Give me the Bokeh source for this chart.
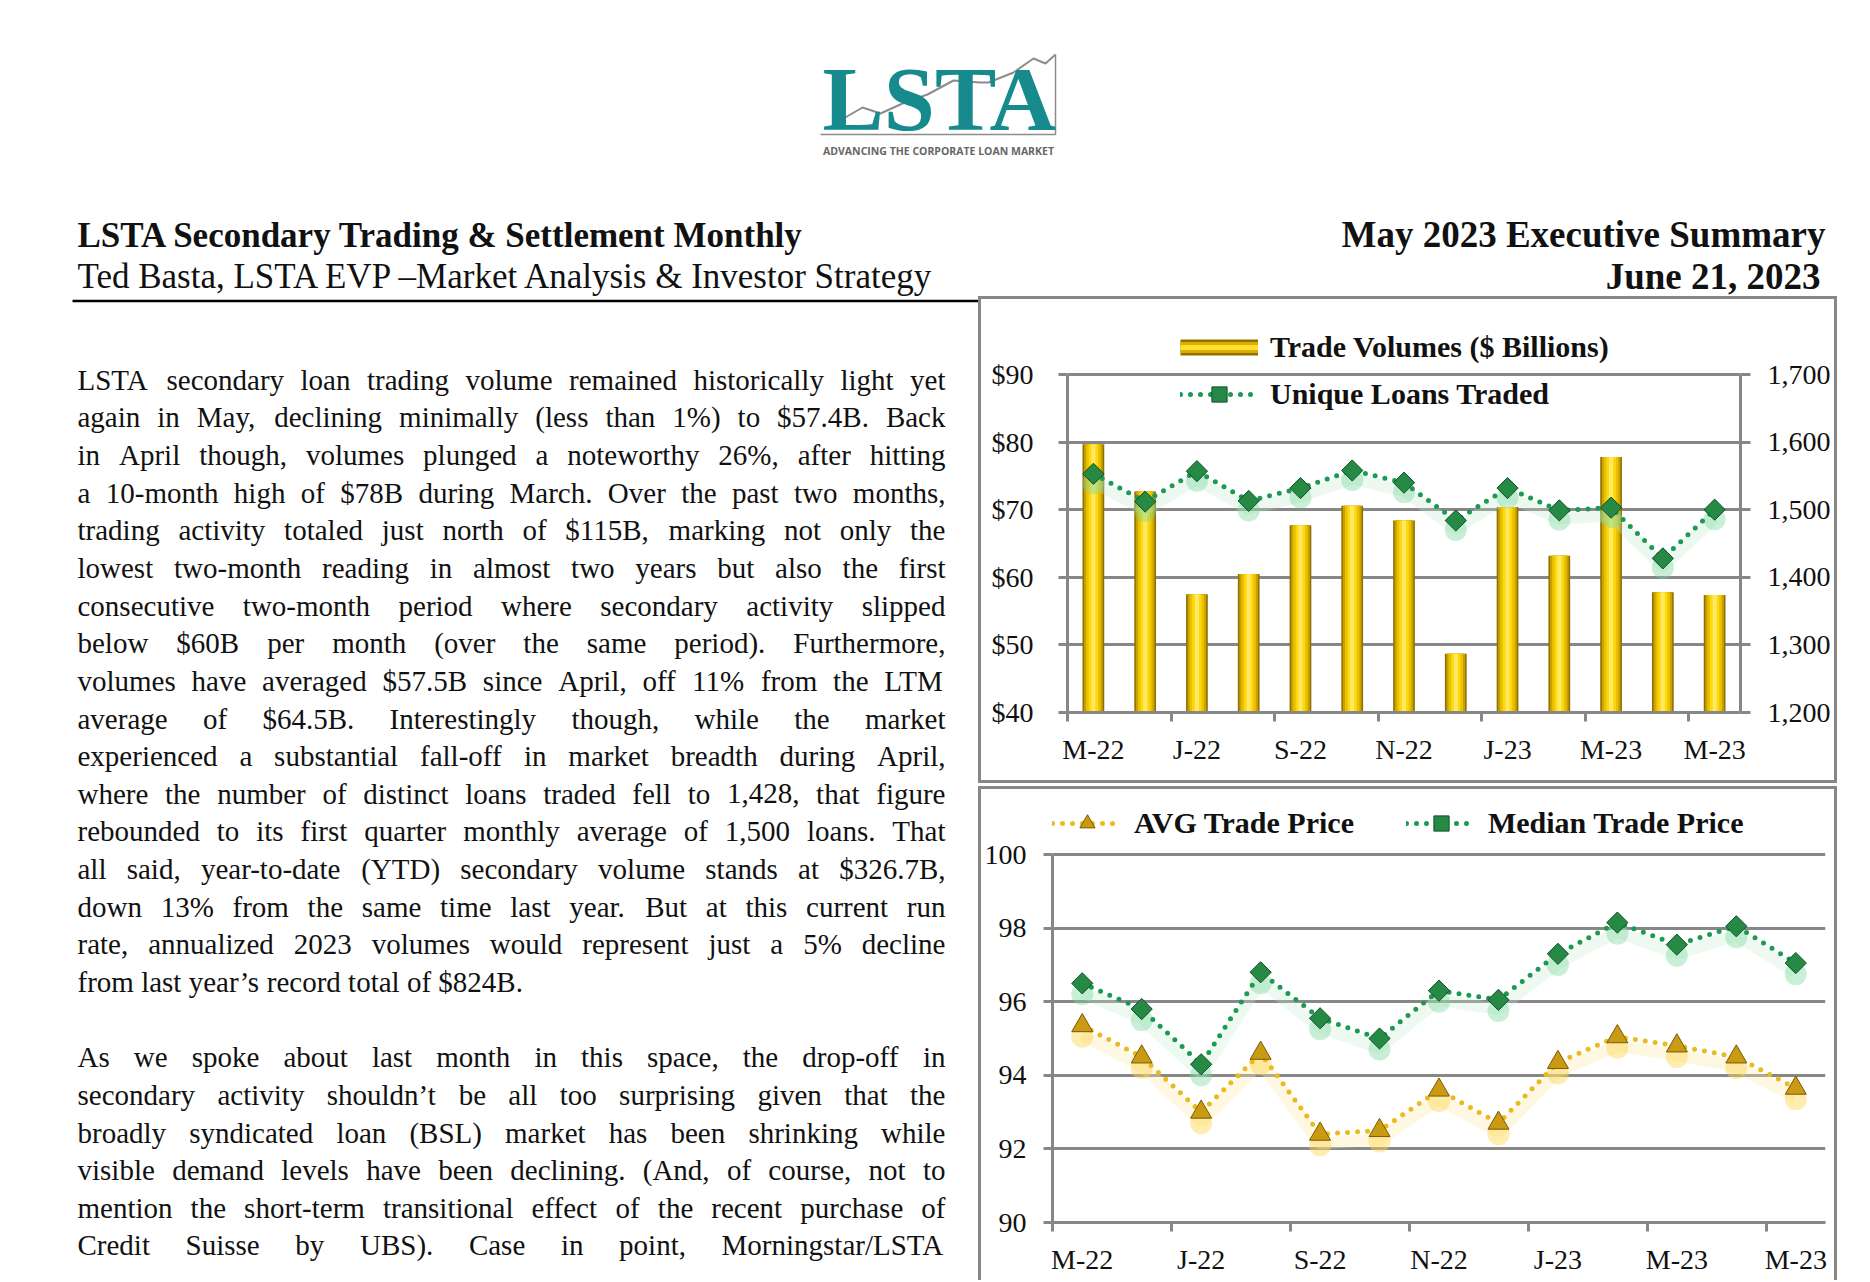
from bokeh.plotting import figure
from bokeh.models import Range1d, LinearAxis, FixedTicker, NumeralTickFormatter, Legend, LegendItem, ColumnDataSource
from bokeh.layouts import column, row
from bokeh.embed import file_html
from bokeh.resources import INLINE
from bokeh.core.properties import value
from bokeh.transform import dodge

# ---------------- data ----------------
months = ["May-22", "Jun-22", "Jul-22", "Aug-22", "Sep-22", "Oct-22", "Nov-22",
          "Dec-22", "Jan-23", "Feb-23", "Mar-23", "Apr-23", "May-23"]
tick_labels = ["M-22", "J-22", "S-22", "N-22", "J-23", "M-23", "M-23"]
trade_volume = [79.7, 72.7, 57.5, 60.5, 67.7, 70.6, 68.4, 48.7, 70.4, 63.2, 77.8, 57.8, 57.4]
unique_loans = [1553, 1512, 1557, 1513, 1532, 1558, 1540, 1484, 1532, 1499, 1503, 1428, 1500]
avg_price = [95.35, 94.5, 93.0, 94.6, 92.4, 92.5, 93.6, 92.7, 94.35, 95.05, 94.8, 94.5, 93.65]
median_price = [96.5, 95.8, 94.3, 96.8, 95.55, 95.0, 96.3, 96.05, 97.3, 98.15, 97.55, 98.05, 97.05]
vol_ticks = [40, 50, 60, 70, 80, 90]
loan_ticks = [1200, 1300, 1400, 1500, 1600, 1700]
price_ticks = [90, 92, 94, 96, 98, 100]

para1 = [
    "LSTA secondary loan trading volume remained historically light yet",
    "again in May, declining minimally (less than 1%) to $57.4B.  Back",
    "in April though, volumes plunged a noteworthy 26%, after hitting",
    "a 10-month high of $78B during March.  Over the past two months,",
    "trading activity totaled just north of $115B, marking not only the",
    "lowest two-month reading in almost two years but also the first",
    "consecutive two-month period where secondary activity slipped",
    "below $60B per month (over the same period). Furthermore,",
    "volumes have averaged $57.5B since April, off 11% from the LTM",
    "average of $64.5B.  Interestingly though, while the market",
    "experienced a substantial fall-off in market breadth during April,",
    "where the number of distinct loans traded fell to 1,428, that figure",
    "rebounded to its first quarter monthly average of 1,500 loans.  That",
    "all said, year-to-date (YTD) secondary volume stands at $326.7B,",
    "down 13% from the same time last year.  But at this current run",
    "rate, annualized 2023 volumes would represent just a 5% decline",
    "from last year\u2019s record total of $824B.",
]
para2 = [
    "As we spoke about last month in this space, the drop-off in",
    "secondary activity shouldn\u2019t be all too surprising given that the",
    "broadly syndicated loan (BSL) market has been shrinking while",
    "visible demand levels have been declining. (And, of course, not to",
    "mention the short-term transitional effect of the recent purchase of",
    "Credit Suisse by UBS).  Case in point, Morningstar/LSTA",
]

SERIF = "Liberation Serif"
GRID = "#878787"
GREEN = "#1a9a52"
GOLD = "#ebbb1c"
BL = 0.37  # baseline correction (em) for alphabetic text
TICK_FS = "28px"
LEG_FS = "30px"

x_idx = list(range(len(months)))
tick_pos = x_idx[::2]
label_map = {t: l for t, l in zip(tick_pos, tick_labels)}

# Times / Liberation Serif advance widths (per 1000 em)
TW = {" ": 250, ",": 250, ".": 250, "(": 333, ")": 333, "$": 500, "%": 833, "-": 333,
      "\u2019": 333, "/": 278, "&": 778, ":": 278, ";": 278, "\u2013": 500, "'": 180}
TW.update(dict(zip("abcdefghijklmnopqrstuvwxyz",
                   [444, 500, 444, 500, 444, 333, 500, 500, 278, 278, 500, 278, 778, 500, 500, 500, 500,
                    333, 389, 278, 500, 500, 722, 500, 500, 444])))
TW.update(dict(zip("ABCDEFGHIJKLMNOPQRSTUVWXYZ",
                   [722, 667, 667, 722, 611, 556, 722, 722, 333, 389, 722, 611, 889, 722, 722, 556, 722,
                    667, 556, 611, 722, 722, 944, 722, 722, 611])))


def em(s):
    return sum(TW.get(c, 500) for c in s) / 1000.0


def canvas(x0, x1, y0, y1):
    p = figure(width=int(x1 - x0), height=int(y1 - y0), x_range=Range1d(x0, x1),
               y_range=Range1d(y1, y0), output_backend="svg", toolbar_location=None,
               min_border=0, x_axis_type=None, y_axis_type=None, outline_line_color=None,
               background_fill_color="white", border_fill_color="white")
    return p


def put(p, x, y, txt, size, bold=False, align="left", color="#111111", font=SERIF):
    p.text(x=[x], y=[y - BL * size], text=[txt], text_font=value(font),
           text_font_style="bold" if bold else "normal", text_font_size=f"{size}px",
           text_color=color, text_baseline="alphabetic", text_align=align)


# ---------------- header ----------------
hdr = canvas(0, 1862, 0, 296)
hdr.line([843, 862, 880, 902, 927, 953, 980, 988, 1013, 1033, 1045, 1055],
         [118, 107, 113, 103, 94, 80, 82, 82, 72, 58, 63, 54], line_color="#8c8c8c", line_width=2)
hdr.line([820, 1055, 1055], [134, 134, 54], line_color="#8c8c8c", line_width=1.5)
put(hdr, 822, 133, "LSTA", 92, bold=True, color="#168a8d")
hdr.text(x=[938], y=[150], text=["ADVANCING THE CORPORATE LOAN MARKET"], text_font=value("Open Sans"),
         text_font_style="bold", text_font_size="10.5px", text_color="#666666",
         text_baseline="middle", text_align="center")
put(hdr, 77, 248, "LSTA Secondary Trading & Settlement Monthly", 35, bold=True)
put(hdr, 77, 289, "Ted Basta, LSTA EVP \u2013Market Analysis & Investor Strategy", 35)
put(hdr, 1825, 248, "May 2023 Executive Summary", 37, bold=True, align="right")
put(hdr, 1820, 290, "June 21, 2023", 37, bold=True, align="right")

# ---------------- body text ----------------
body = canvas(0, 978, 296, 1280)
body.line([72, 978], [300.5, 300.5], line_color="black", line_width=2.5)

BODY_X, BODY_W, BODY_S, LEAD, BASE0 = 77, 868, 29, 37.64, 390
xs, ys, ts = [], [], []
lines = [(l, i, i == len(para1) - 1) for i, l in enumerate(para1)] + \
        [(l, 18 + j, False) for j, l in enumerate(para2)]
for line, k, last in lines:
    words = line.split()
    ws = [em(w) * BODY_S for w in words]
    gap = 0.25 * BODY_S if last else (BODY_W - sum(ws)) / (len(words) - 1)
    x = BODY_X
    for w, wd in zip(words, ws):
        xs.append(x)
        ys.append(BASE0 + LEAD * k - BL * BODY_S)
        ts.append(w)
        x += wd + gap
body.text(x=xs, y=ys, text=ts, text_font=value(SERIF), text_font_size=f"{BODY_S}px",
          text_color="#111111", text_baseline="alphabetic", text_align="left")


def style_axis(ax, standoff):
    ax.axis_line_color = GRID
    ax.axis_line_width = 3
    ax.major_tick_line_color = GRID
    ax.major_tick_line_width = 3
    ax.major_tick_out = 9
    ax.major_tick_in = 0
    ax.minor_tick_line_color = None
    ax.major_label_text_font = SERIF
    ax.major_label_text_font_size = TICK_FS
    ax.major_label_text_color = "#111111"
    ax.major_label_standoff = standoff


def style_xaxis(ax):
    style_axis(ax, 12)
    ax.ticker = FixedTicker(ticks=tick_pos, minor_ticks=[t - 0.5 for t in tick_pos])
    ax.major_label_overrides = label_map
    ax.major_tick_line_color = None
    ax.minor_tick_line_color = GRID
    ax.minor_tick_line_width = 3
    ax.minor_tick_out = 9
    ax.minor_tick_in = 0


def legend(items, loc, orient, gw, spacing):
    return Legend(items=items, location=loc, orientation=orient, glyph_width=gw, glyph_height=38,
                  spacing=spacing, padding=0, margin=0, label_standoff=12, border_line_color=None,
                  background_fill_alpha=0, label_text_font=SERIF, label_text_font_style="bold",
                  label_text_font_size=LEG_FS, label_text_color="#111111")


src = ColumnDataSource(dict(x=x_idx, month=months, vol=trade_volume, loans=unique_loans,
                            avg=avg_price, med=median_price, base=[vol_ticks[0]] * len(months)))

# ---------------- chart 1 ----------------
C1_TOP, C1_GRID_TOP, C1_BOT = 322, 374, 712
ext1 = (C1_GRID_TOP - C1_TOP) / (C1_BOT - C1_GRID_TOP)
vol_end = vol_ticks[-1] + ext1 * (vol_ticks[-1] - vol_ticks[0])
loan_end = loan_ticks[-1] + ext1 * (loan_ticks[-1] - loan_ticks[0])

p1 = figure(width=859, height=487, x_range=Range1d(-0.5, 12.5), y_range=Range1d(vol_ticks[0], vol_end),
            output_backend="svg", toolbar_location=None,
            min_border_left=89, min_border_right=97, min_border_top=C1_TOP - 296, min_border_bottom=71,
            background_fill_color=None, border_fill_color=None, outline_line_color=None,
            styles={"box-shadow": "inset 0 0 0 3px #878787"})
p1.extra_y_ranges = {"loans": Range1d(loan_ticks[0], loan_end)}
p1.xgrid.visible = False
p1.ygrid.ticker = FixedTicker(ticks=vol_ticks)
p1.ygrid.grid_line_color = GRID
p1.ygrid.grid_line_width = 3
style_xaxis(p1.xaxis[0])
p1.yaxis[0].ticker = FixedTicker(ticks=vol_ticks)
p1.yaxis[0].formatter = NumeralTickFormatter(format="$0")
p1.yaxis[0].bounds = (vol_ticks[0], vol_ticks[-1])
style_axis(p1.yaxis[0], 25)
rax = LinearAxis(y_range_name="loans", ticker=FixedTicker(ticks=loan_ticks),
                 formatter=NumeralTickFormatter(format="0,0"), bounds=(loan_ticks[0], loan_ticks[-1]))
style_axis(rax, 17)
rax.major_tick_out = 10
p1.add_layout(rax, "right")

for w, c in [(0.42, "#8f7000"), (0.36, "#c9a100"), (0.28, "#e8c200"), (0.18, "#ffd80a"), (0.08, "#ffe866")]:
    p1.vbar(x="x", top="vol", bottom="base", width=w, source=src, fill_color=c, line_color=None)

p1.line(x="x", y=dodge("loans", -12), y_range_name="loans", source=src,
        line_color="#bfe9cc", line_width=12, line_alpha=0.3)
p1.scatter(x="x", y=dodge("loans", -14), y_range_name="loans", source=src, marker="circle",
           size=22, fill_color="#7ad69a", fill_alpha=0.4, line_color=None)
loan_line = p1.line(x="x", y="loans", y_range_name="loans", source=src, line_color=GREEN,
                    line_width=5, line_dash="0 10", line_cap="round")
loan_pts = p1.scatter(x="x", y="loans", y_range_name="loans", source=src, marker="square",
                      angle=0.785398, size=15, fill_color="#268a45", line_color="#0f4f27", line_width=1)

# legend swatch for the bars: single-vertex lines (draw nothing in the plot)
bar_proxy = [p1.line(x=x_idx[:1], y=trade_volume[:1], line_color=c, line_width=w) for c, w in
             [("#8f7000", 16), ("#d9b000", 11), ("#ffdf33", 5)]]
p1.add_layout(legend([LegendItem(label="Trade Volumes ($ Billions)", renderers=bar_proxy),
                      LegendItem(label="Unique Loans Traded", renderers=[loan_line, loan_pts])],
                     (113, C1_BOT - 413), "vertical", 78, 9))

# ---------------- chart 2 ----------------
C2_Y0, C2_TOP, C2_GRID_TOP, C2_BOT, C2_Y1 = 786, 800, 854, 1222, 1280
ext2 = (C2_GRID_TOP - C2_TOP) / (C2_BOT - C2_GRID_TOP)
price_end = price_ticks[-1] + ext2 * (price_ticks[-1] - price_ticks[0])

p2 = figure(width=859, height=C2_Y1 - C2_Y0, x_range=Range1d(-0.5, 12.5),
            y_range=Range1d(price_ticks[0], price_end),
            output_backend="svg", toolbar_location=None,
            min_border_left=74, min_border_right=12, min_border_top=C2_TOP - C2_Y0,
            min_border_bottom=C2_Y1 - C2_BOT,
            background_fill_color=None, border_fill_color=None, outline_line_color=None,
            styles={"box-shadow": "inset 3px 0 0 #878787, inset -3px 0 0 #878787, inset 0 3px 0 #878787"})
p2.xgrid.visible = False
p2.ygrid.ticker = FixedTicker(ticks=price_ticks)
p2.ygrid.grid_line_color = GRID
p2.ygrid.grid_line_width = 3
style_xaxis(p2.xaxis[0])
p2.yaxis[0].ticker = FixedTicker(ticks=price_ticks)
p2.yaxis[0].bounds = (price_ticks[0], price_ticks[-1])
style_axis(p2.yaxis[0], 17)

p2.line(x="x", y=dodge("med", -0.25), source=src, line_color="#c4ecd2", line_width=12, line_alpha=0.3)
p2.line(x="x", y=dodge("avg", -0.25), source=src, line_color="#fbe9a8", line_width=12, line_alpha=0.35)
p2.scatter(x="x", y=dodge("med", -0.3), source=src, marker="circle", size=22,
           fill_color="#7ad69a", fill_alpha=0.4, line_color=None)
p2.scatter(x="x", y=dodge("avg", -0.3), source=src, marker="circle", size=22,
           fill_color="#ffd54d", fill_alpha=0.45, line_color=None)
avg_line = p2.line(x="x", y="avg", source=src, line_color=GOLD, line_width=5, line_dash="0 10", line_cap="round")
med_line = p2.line(x="x", y="med", source=src, line_color=GREEN, line_width=5, line_dash="0 10", line_cap="round")
avg_pts = p2.scatter(x="x", y="avg", source=src, marker="triangle", size=21,
                     fill_color="#c99a12", line_color="#7a5a04", line_width=1)
med_pts = p2.scatter(x="x", y="med", source=src, marker="square", angle=0.785398, size=15,
                     fill_color="#268a45", line_color="#0f4f27", line_width=1)
p2.add_layout(legend([LegendItem(label="AVG Trade Price", renderers=[avg_line, avg_pts]),
                      LegendItem(label="Median Trade Price", renderers=[med_line, med_pts])],
                     (0, C2_BOT - 842), "horizontal", 70, 52))

layout = column(hdr, row(body, column(row(p1), row(p2), spacing=3)))
open("out.html", "w").write(file_html(layout, INLINE))
